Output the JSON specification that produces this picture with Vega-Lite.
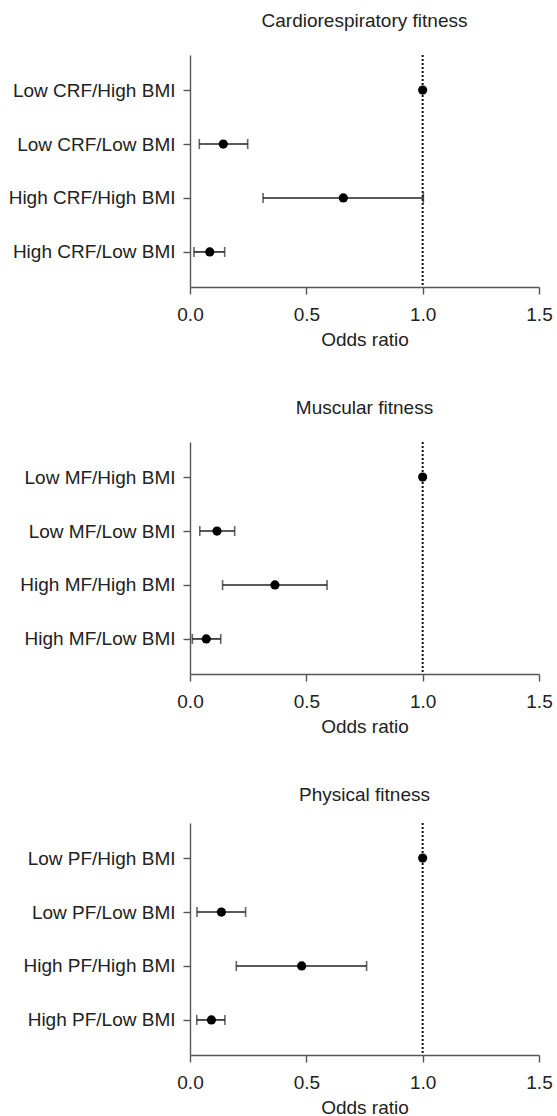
{
  "$schema": "https://vega.github.io/schema/vega-lite/v6.json",
  "padding": {"left": 8, "top": 12, "right": 10, "bottom": 0},
  "background": "white",
  "datasets": {
    "crf": [
      {"group": "Low CRF/High BMI", "or": 1.0, "lo": null, "hi": null},
      {"group": "Low CRF/Low BMI", "or": 0.143, "lo": 0.04, "hi": 0.248},
      {"group": "High CRF/High BMI", "or": 0.659, "lo": 0.314, "hi": 1.003},
      {"group": "High CRF/Low BMI", "or": 0.085, "lo": 0.017, "hi": 0.149}
    ],
    "mf": [
      {"group": "Low MF/High BMI", "or": 1.0, "lo": null, "hi": null},
      {"group": "Low MF/Low BMI", "or": 0.116, "lo": 0.042, "hi": 0.192},
      {"group": "High MF/High BMI", "or": 0.365, "lo": 0.14, "hi": 0.589},
      {"group": "High MF/Low BMI", "or": 0.07, "lo": 0.01, "hi": 0.132}
    ],
    "pf": [
      {"group": "Low PF/High BMI", "or": 1.0, "lo": null, "hi": null},
      {"group": "Low PF/Low BMI", "or": 0.135, "lo": 0.03, "hi": 0.239},
      {"group": "High PF/High BMI", "or": 0.48, "lo": 0.199, "hi": 0.759},
      {"group": "High PF/Low BMI", "or": 0.092, "lo": 0.029, "hi": 0.15}
    ]
  },
  "vconcat": [
    {
      "title": {"text": "Cardiorespiratory fitness", "offset": 23},
      "width": 349, "height": 232,
      "data": {"name": "crf"},
      "layer": [
        {"data": {"values": [{}]}, "mark": {"type": "rule", "strokeDash": [2, 2], "strokeWidth": 2, "color": "#111"}, "encoding": {"x": {"datum": 1, "type": "quantitative", "title": "Odds ratio", "scale": {"domain": [0, 1.5], "nice": false}, "axis": {"values": [0, 0.5, 1, 1.5], "format": ".1f"}}}},
        {"transform": [{"filter": "datum.lo != null"}], "mark": {"type": "rule", "strokeWidth": 1.6, "color": "#222"}, "encoding": {"x": {"field": "lo", "type": "quantitative", "title": "Odds ratio"}, "x2": {"field": "hi"}, "y": {"field": "group", "type": "nominal", "scale": {"type": "point", "padding": 0.65, "domain": ["Low CRF/High BMI", "Low CRF/Low BMI", "High CRF/High BMI", "High CRF/Low BMI"]}}}},
        {"transform": [{"filter": "datum.lo != null"}], "mark": {"type": "tick", "thickness": 1.6, "size": 10, "color": "#222", "orient": "vertical"}, "encoding": {"x": {"field": "lo", "type": "quantitative", "title": "Odds ratio"}, "y": {"field": "group", "type": "nominal"}}},
        {"transform": [{"filter": "datum.lo != null"}], "mark": {"type": "tick", "thickness": 1.6, "size": 10, "color": "#222", "orient": "vertical"}, "encoding": {"x": {"field": "hi", "type": "quantitative", "title": "Odds ratio"}, "y": {"field": "group", "type": "nominal"}}},
        {"mark": {"type": "point", "filled": true, "size": 85, "color": "#000", "opacity": 1}, "encoding": {"x": {"field": "or", "type": "quantitative", "title": "Odds ratio"}, "y": {"field": "group", "type": "nominal"}}}
      ]
    },
    {
      "title": {"text": "Muscular fitness", "offset": 23},
      "width": 349, "height": 232,
      "data": {"name": "mf"},
      "layer": [
        {"data": {"values": [{}]}, "mark": {"type": "rule", "strokeDash": [2, 2], "strokeWidth": 2, "color": "#111"}, "encoding": {"x": {"datum": 1, "type": "quantitative", "title": "Odds ratio", "scale": {"domain": [0, 1.5], "nice": false}, "axis": {"values": [0, 0.5, 1, 1.5], "format": ".1f"}}}},
        {"transform": [{"filter": "datum.lo != null"}], "mark": {"type": "rule", "strokeWidth": 1.6, "color": "#222"}, "encoding": {"x": {"field": "lo", "type": "quantitative", "title": "Odds ratio"}, "x2": {"field": "hi"}, "y": {"field": "group", "type": "nominal", "scale": {"type": "point", "padding": 0.65, "domain": ["Low MF/High BMI", "Low MF/Low BMI", "High MF/High BMI", "High MF/Low BMI"]}}}},
        {"transform": [{"filter": "datum.lo != null"}], "mark": {"type": "tick", "thickness": 1.6, "size": 10, "color": "#222", "orient": "vertical"}, "encoding": {"x": {"field": "lo", "type": "quantitative", "title": "Odds ratio"}, "y": {"field": "group", "type": "nominal"}}},
        {"transform": [{"filter": "datum.lo != null"}], "mark": {"type": "tick", "thickness": 1.6, "size": 10, "color": "#222", "orient": "vertical"}, "encoding": {"x": {"field": "hi", "type": "quantitative", "title": "Odds ratio"}, "y": {"field": "group", "type": "nominal"}}},
        {"mark": {"type": "point", "filled": true, "size": 85, "color": "#000", "opacity": 1}, "encoding": {"x": {"field": "or", "type": "quantitative", "title": "Odds ratio"}, "y": {"field": "group", "type": "nominal"}}}
      ]
    },
    {
      "title": {"text": "Physical fitness", "offset": 17},
      "width": 349, "height": 232,
      "data": {"name": "pf"},
      "layer": [
        {"data": {"values": [{}]}, "mark": {"type": "rule", "strokeDash": [2, 2], "strokeWidth": 2, "color": "#111"}, "encoding": {"x": {"datum": 1, "type": "quantitative", "title": "Odds ratio", "scale": {"domain": [0, 1.5], "nice": false}, "axis": {"values": [0, 0.5, 1, 1.5], "format": ".1f"}}}},
        {"transform": [{"filter": "datum.lo != null"}], "mark": {"type": "rule", "strokeWidth": 1.6, "color": "#222"}, "encoding": {"x": {"field": "lo", "type": "quantitative", "title": "Odds ratio"}, "x2": {"field": "hi"}, "y": {"field": "group", "type": "nominal", "scale": {"type": "point", "padding": 0.65, "domain": ["Low PF/High BMI", "Low PF/Low BMI", "High PF/High BMI", "High PF/Low BMI"]}}}},
        {"transform": [{"filter": "datum.lo != null"}], "mark": {"type": "tick", "thickness": 1.6, "size": 10, "color": "#222", "orient": "vertical"}, "encoding": {"x": {"field": "lo", "type": "quantitative", "title": "Odds ratio"}, "y": {"field": "group", "type": "nominal"}}},
        {"transform": [{"filter": "datum.lo != null"}], "mark": {"type": "tick", "thickness": 1.6, "size": 10, "color": "#222", "orient": "vertical"}, "encoding": {"x": {"field": "hi", "type": "quantitative", "title": "Odds ratio"}, "y": {"field": "group", "type": "nominal"}}},
        {"mark": {"type": "point", "filled": true, "size": 85, "color": "#000", "opacity": 1}, "encoding": {"x": {"field": "or", "type": "quantitative", "title": "Odds ratio"}, "y": {"field": "group", "type": "nominal"}}}
      ]
    }
  ],
  "spacing": 50,
  "config": {
    "font": "Liberation Sans",
    "view": {"stroke": null},
    "axis": {"grid": false, "domainColor": "#555", "tickColor": "#555", "domainWidth": 1.4, "tickWidth": 1.4, "tickSize": 7, "labelFontSize": 19, "labelColor": "#222", "titleFontSize": 19, "titleFontWeight": "normal", "titleColor": "#222", "labelFont": "Liberation Sans", "titleFont": "Liberation Sans"},
    "axisX": {"labelPadding": 11, "titlePadding": 6, "labelFlush": false},
    "axisY": {"title": null, "labelPadding": 8},
    "title": {"fontSize": 19, "fontWeight": "normal", "color": "#222", "font": "Liberation Sans", "anchor": "middle"}
  }
}
